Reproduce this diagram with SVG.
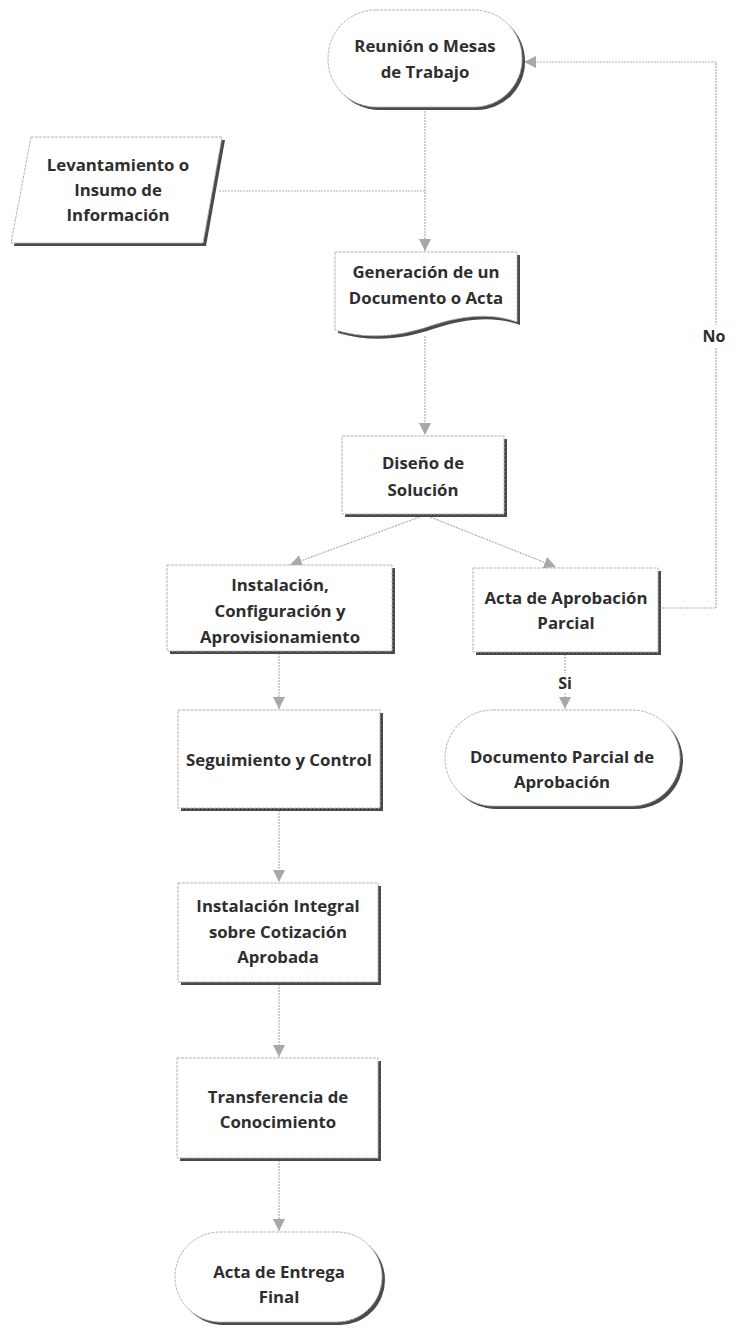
<svg xmlns="http://www.w3.org/2000/svg" width="736" height="1333" viewBox="0 0 736 1333">
<style>
.sh{fill:#4a4a4a;}
.nd{fill:#ffffff;stroke:#b5b5b5;stroke-width:1;stroke-dasharray:3 1;}
.t{font-family:"Open Sans","Liberation Sans",sans-serif;font-weight:700;font-size:16.8px;fill:#2e2e2e;text-anchor:middle;}
.c{fill:none;stroke:#b0b0b0;stroke-width:1.2;stroke-dasharray:2 1;}
.lb{font-family:"Open Sans","Liberation Sans",sans-serif;font-weight:700;font-size:16px;fill:#2e2e2e;text-anchor:middle;}
</style>
<defs>
<marker id="ah" markerUnits="userSpaceOnUse" markerWidth="14" markerHeight="14" refX="12" refY="6" orient="auto">
<path d="M0,0 L12,6 L0,12 Z" fill="#a8a8a8"/>
</marker>
</defs>
<rect width="736" height="1333" fill="#ffffff"/>

<g id="connectors">
<path class="c" d="M425,108 V251" marker-end="url(#ah)"/>
<path class="c" d="M219,191 H425"/>
<path class="c" d="M425,336 V435" marker-end="url(#ah)"/>
<path class="c" d="M425,515 L290,565" marker-end="url(#ah)"/>
<path class="c" d="M425,515 L556,567" marker-end="url(#ah)"/>
<path class="c" d="M279,653 V709" marker-end="url(#ah)"/>
<path class="c" d="M279,810 V882" marker-end="url(#ah)"/>
<path class="c" d="M279,984 V1057" marker-end="url(#ah)"/>
<path class="c" d="M279,1160 V1231" marker-end="url(#ah)"/>
<path class="c" d="M565,654 V709" marker-end="url(#ah)"/>
<path class="c" d="M659,608 H716 V62 H524" marker-end="url(#ah)"/>
<rect x="700" y="325" width="30" height="22" fill="#ffffff"/>
<text class="lb" x="714" y="342">No</text>
<rect x="554" y="673" width="22" height="20" fill="#ffffff"/>
<text class="lb" x="565" y="689">Si</text>
</g>

<g id="n1">
<rect class="sh" x="331" y="13" width="194" height="97" rx="48"/>
<rect class="nd" x="328" y="10" width="194" height="97" rx="48"/>
<text class="t" x="425" y="52">Reunión o Mesas</text>
<text class="t" x="425" y="78">de Trabajo</text>
</g>

<g id="n2">
<polygon class="sh" points="34,140 225,140 206,246 14,246"/>
<polygon class="nd" points="31,137 222,137 203,243 11,243"/>
<text class="t" x="118" y="171">Levantamiento o</text>
<text class="t" x="118" y="196">Insumo de</text>
<text class="t" x="118" y="221">Información</text>
</g>

<g id="n3">
<path class="sh" d="M338,255 H520 V325 C493,315 463,319 433,329 C403,339 373,343 338,333 Z"/>
<path class="nd" d="M335,252 H517 V322 C490,312 460,316 430,326 C400,336 370,340 335,330 Z"/>
<text class="t" x="426" y="278">Generación de un</text>
<text class="t" x="426" y="304">Documento o Acta</text>
</g>

<g id="n4">
<rect class="sh" x="345" y="439" width="162" height="78"/>
<rect class="nd" x="342" y="436" width="162" height="78"/>
<text class="t" x="423" y="469">Diseño de</text>
<text class="t" x="423" y="496">Solución</text>
</g>

<g id="n5">
<rect class="sh" x="170" y="568" width="225" height="86"/>
<rect class="nd" x="167" y="565" width="225" height="86"/>
<text class="t" x="280" y="591">Instalación,</text>
<text class="t" x="280" y="617">Configuración y</text>
<text class="t" x="280" y="643">Aprovisionamiento</text>
</g>

<g id="n6">
<rect class="sh" x="476" y="571" width="185" height="84"/>
<rect class="nd" x="473" y="568" width="185" height="84"/>
<text class="t" x="566" y="604">Acta de Aprobación</text>
<text class="t" x="566" y="629">Parcial</text>
</g>

<g id="n7">
<rect class="sh" x="448" y="713" width="235" height="96" rx="48"/>
<rect class="nd" x="445" y="710" width="235" height="96" rx="48"/>
<text class="t" x="562" y="763">Documento Parcial de</text>
<text class="t" x="562" y="788">Aprobación</text>
</g>

<g id="n8">
<rect class="sh" x="181" y="713" width="202" height="98"/>
<rect class="nd" x="178" y="710" width="202" height="98"/>
<text class="t" x="279" y="766">Seguimiento y Control</text>
</g>

<g id="n9">
<rect class="sh" x="181" y="886" width="200" height="99"/>
<rect class="nd" x="178" y="883" width="200" height="99"/>
<text class="t" x="278" y="912">Instalación Integral</text>
<text class="t" x="278" y="938">sobre Cotización</text>
<text class="t" x="278" y="963">Aprobada</text>
</g>

<g id="n10">
<rect class="sh" x="180" y="1061" width="201" height="100"/>
<rect class="nd" x="177" y="1058" width="201" height="100"/>
<text class="t" x="278" y="1103">Transferencia de</text>
<text class="t" x="278" y="1128">Conocimiento</text>
</g>

<g id="n11">
<rect class="sh" x="178" y="1235" width="207" height="90" rx="45"/>
<rect class="nd" x="175" y="1232" width="207" height="90" rx="45"/>
<text class="t" x="279" y="1278">Acta de Entrega</text>
<text class="t" x="279" y="1303">Final</text>
</g>
</svg>
